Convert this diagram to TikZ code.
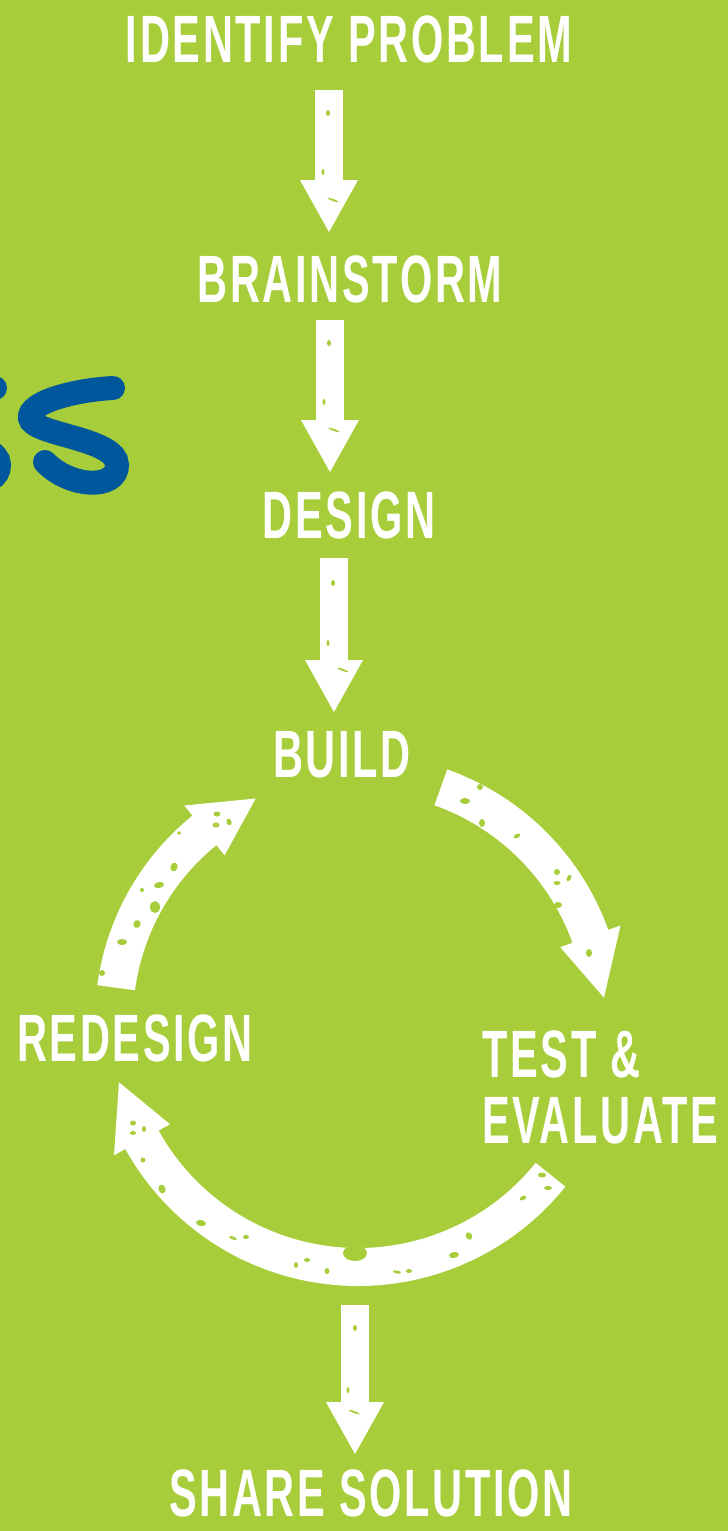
\documentclass[tikz,border=0pt]{standalone}
\usepackage{fontspec}
\newfontfamily\lblfont[FakeStretch=0.62,LetterSpace=4]{Liberation Sans}
\usetikzlibrary{arrows.meta}
\definecolor{bggreen}{HTML}{A7CE3A}
\definecolor{sblue}{HTML}{01579B}
\tikzset{
  steptext/.style={text=white, font=\lblfont\bfseries\fontsize{67}{67}\selectfont, inner sep=0pt, anchor=base},
  sarrow/.style={draw=white, line width=28pt, -{Triangle[width=58pt,length=52pt,line width=0pt]}},
  sstroke/.style={draw=sblue, line width=24pt, line cap=round},
}
\newcommand\carrow[4]{%
  \pgfmathsetmacro\arOut{#4+19}\pgfmathsetmacro\arIn{#4-19}%
  \pgfmathsetmacro\hdOut{#4+32}\pgfmathsetmacro\hdIn{#4-32}%
  \fill[white] (#1:\arOut) arc[start angle=#1,end angle=#2,radius=\arOut]
    -- (#2:\hdOut) -- (#3:#4) -- (#2:\hdIn) -- (#2:\arIn)
    arc[start angle=#2,end angle=#1,radius=\arIn] -- cycle;}
\newcommand\hole[5]{\fill[bggreen, rotate around={#5:(#1,-#2)}] (#1,-#2) ellipse[x radius=#3pt, y radius=#4pt];}
\begin{document}
\begin{tikzpicture}[x=1pt,y=1pt]
\fill[bggreen] (0,0) rectangle (728,-1531);
\useasboundingbox (0,0) rectangle (728,-1531);

% blue letters (end of a word cut by the left edge)
\begin{scope}
\clip (0,0) rectangle (728,-1531);
\draw[sstroke] (113,-388) .. controls (75,-390) and (28,-402) .. (30,-418)
  .. controls (32,-435) and (117,-438) .. (117,-465)
  .. controls (117,-490) and (70,-488) .. (45,-462);
\draw[sstroke] (-5,-388) .. controls (-43,-390) and (-90,-402) .. (-88,-418)
  .. controls (-86,-435) and (-1,-438) .. (-1,-465)
  .. controls (-1,-490) and (-48,-488) .. (-73,-462);
\end{scope}

% step labels
\node[steptext] (identify) at (349,-62) {IDENTIFY PROBLEM};
\node[steptext] (brainstorm) at (350,-302) {BRAINSTORM};
\node[steptext] (design) at (349,-538) {DESIGN};
\node[steptext] (build) at (342,-777) {BUILD};
\node[steptext] (redesign) at (135,-1061) {REDESIGN};
\node[steptext, anchor=base west] (test) at (482,-1077) {TEST \&};
\node[steptext, anchor=base west] (evaluate) at (482,-1143) {EVALUATE};
\node[steptext] (share) at (371,-1516) {SHARE SOLUTION};

% straight arrows
\coordinate (a1s) at (329,-90);   \coordinate (a1e) at (329,-232);
\coordinate (a2s) at (330,-320);  \coordinate (a2e) at (330,-472);
\coordinate (a3s) at (334,-558);  \coordinate (a3e) at (334,-712);
\coordinate (a4s) at (355,-1305); \coordinate (a4e) at (355,-1454);
\draw[sarrow] (a1s) -- (a1e);
\draw[sarrow] (a2s) -- (a2e);
\draw[sarrow] (a3s) -- (a3e);
\draw[sarrow] (a4s) -- (a4e);

% curved arrows of the cycle
\coordinate (cyc) at (358,-1020);
\begin{scope}[shift={(cyc)}]
\carrow{172.4}{129}{114.8}{244}
\carrow{70.4}{19.8}{5.2}{247}
\carrow{-38.8}{-151}{-165.4}{247}
\end{scope}

% worn spots, left arrow
\hole{217}{814}{3.5}{2.5}{0}
\hole{216}{825}{3.5}{2.5}{0}
\hole{229}{822}{2.5}{3.5}{20}
\hole{179}{833}{2}{1.5}{30}
\hole{174}{867}{3.5}{4.5}{-20}
\hole{159}{885}{5}{3}{10}
\hole{142}{890}{2}{2}{0}
\hole{137}{924}{3.5}{4}{-20}
\hole{122}{942}{5}{3}{0}
\hole{155}{907}{5}{6}{0}
\hole{102}{973}{3}{3}{0}
% right arrow
\hole{465}{801}{5}{3}{0}
\hole{517}{836}{3.5}{2}{30}
\hole{557}{872}{3}{3}{0}
\hole{557}{883}{3.5}{2}{0}
\hole{569}{878}{2}{3.5}{-30}
\hole{589}{953}{3}{4}{0}
\hole{480}{787}{3}{3}{0}
\hole{482}{823}{3}{4}{0}
\hole{558}{905}{4}{3}{0}
% bottom arrow
\hole{133}{1123}{3}{2.5}{0}
\hole{133}{1133}{3}{2}{0}
\hole{144}{1129}{2}{3}{0}
\hole{143}{1160}{2.5}{2.5}{0}
\hole{162}{1189}{3.5}{4.5}{20}
\hole{201}{1223}{5}{3}{-10}
\hole{233}{1238}{4}{1.5}{-20}
\hole{246}{1237}{3}{2}{0}
\hole{296}{1265}{2}{3}{0}
\hole{307}{1260}{3}{2}{0}
\hole{327}{1271}{2.5}{3}{0}
\hole{355}{1253}{12}{8}{0}
\hole{385}{1291}{6}{5}{0}
\hole{397}{1272}{4}{1.5}{-10}
\hole{409}{1271}{3}{2}{0}
\hole{454}{1255}{5}{3}{10}
\hole{469}{1236}{3}{4}{30}
\hole{523}{1198}{3.5}{2}{30}
\hole{548}{1188}{4}{2}{0}
\hole{542}{1175}{4}{2.5}{0}
% straight arrows
\hole{328}{113}{2}{3}{0}
\hole{323}{172}{1.5}{3}{0}
\hole{333}{200}{6}{1}{-20}
\hole{329}{343}{2}{3}{0}
\hole{324}{402}{1.5}{3}{0}
\hole{334}{430}{6}{1}{-20}
\hole{333}{583}{2}{3}{0}
\hole{328}{643}{1.5}{3}{0}
\hole{343}{670}{6}{1}{-20}
\hole{355}{1328}{2}{3}{0}
\hole{348}{1390}{1.5}{3}{0}
\hole{354}{1412}{6}{1}{-20}
\end{tikzpicture}
\end{document}
